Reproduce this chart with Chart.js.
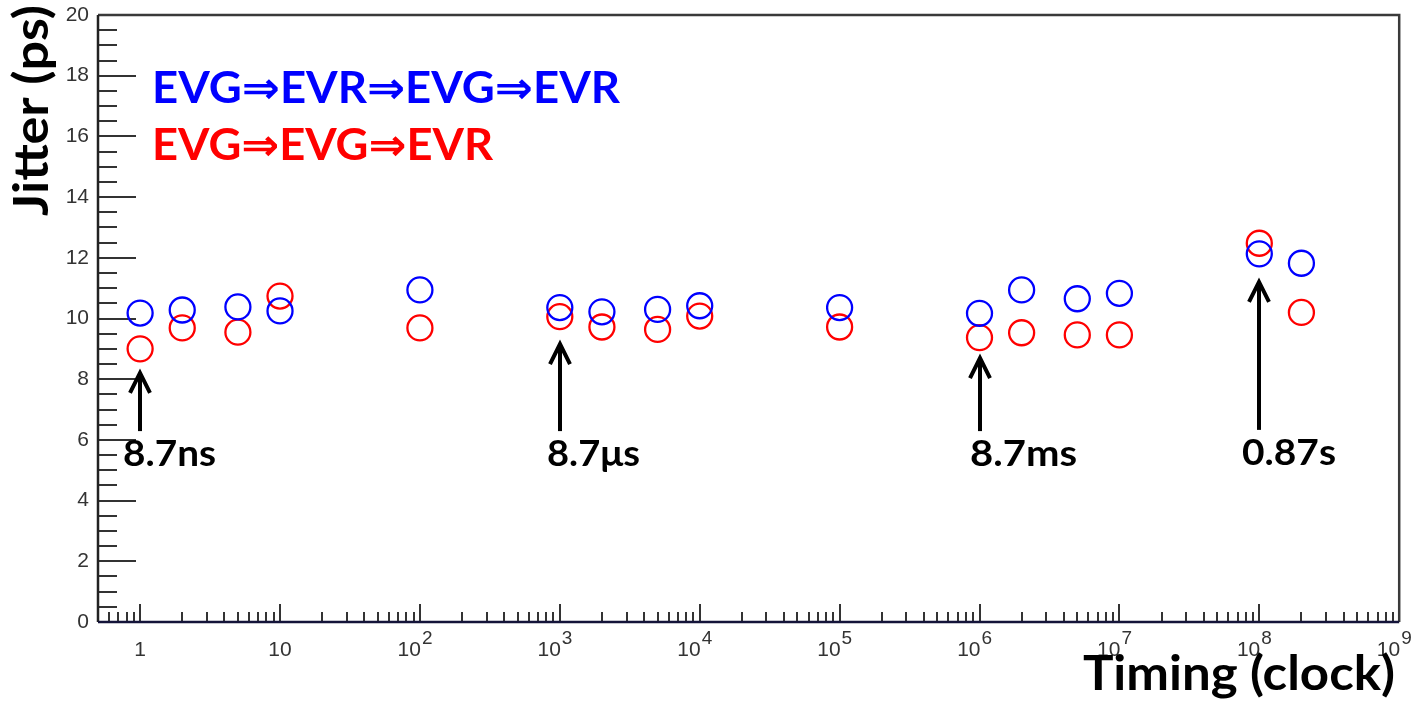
<!DOCTYPE html>
<html><head><meta charset="utf-8">
<script src="https://cdn.jsdelivr.net/npm/chart.js@4.4.1/dist/chart.umd.min.js"></script>
<style>html,body{margin:0;padding:0;background:#fff;overflow:hidden}#wrap{width:1414px;height:704px;position:relative}</style>
</head><body><div id="wrap"><canvas id="c" width="1414" height="704"></canvas></div>
<script>
// ---- data ----
const timing = [1, 2, 5, 10, 100, 1000, 2000, 5000, 10000, 1e5, 1e6, 2e6, 5e6, 1e7, 1e8, 2e8];
const jitterEvgEvrEvgEvr = [10.18, 10.28, 10.38, 10.25, 10.94, 10.36, 10.22, 10.30, 10.42, 10.36, 10.17, 10.94, 10.65, 10.83, 12.13, 11.82];
const jitterEvgEvgEvr   = [9.00, 9.69, 9.55, 10.74, 9.69, 10.06, 9.72, 9.64, 10.08, 9.72, 9.37, 9.53, 9.46, 9.46, 12.48, 10.20];
const seriesNames = ['EVG\u21D2EVR\u21D2EVG\u21D2EVR', 'EVG\u21D2EVG\u21D2EVR'];
const xTickValues = [1, 10, 1e2, 1e3, 1e4, 1e5, 1e6, 1e7, 1e8, 1e9];
const xTickBase = ['1', '10', '10', '10', '10', '10', '10', '10', '10', '10'];
const xTickExp  = ['', '', '2', '3', '4', '5', '6', '7', '8', '9'];
const yTickValues = [0, 2, 4, 6, 8, 10, 12, 14, 16, 18, 20];
const arrowX = [1, 1e3, 1e6, 1e8];
const arrowTip = [8.24, 9.19, 8.73, 11.24];
const arrowBase = [6.29, 6.29, 6.29, 6.33];
const arrowLabels = ['8.7ns', '8.7\u03BCs', '8.7ms', '0.87s'];
const xTitle = 'Timing (clock)';
const yTitle = 'Jitter (ps)';

// ---- drawing helpers ----
function fitText(ctx, text, x, y, targetW, font, color) {
  ctx.save();
  ctx.font = font; ctx.fillStyle = color; ctx.textBaseline = 'alphabetic'; ctx.textAlign = 'left';
  const w = ctx.measureText(text).width;
  ctx.translate(x, y); ctx.scale(targetW / w, 1);
  ctx.fillText(text, 0, 0);
  ctx.restore();
}

const TICK_FONT = '21px "Liberation Sans", Arial, sans-serif';

const framePlugin = {
  id: 'rootFrame',
  beforeDatasetsDraw(chart) {
    const ctx = chart.ctx, a = chart.chartArea;
    const xs = chart.scales.x, ys = chart.scales.y;
    ctx.save();
    // ticks y (inward)
    ctx.strokeStyle = '#333'; ctx.lineWidth = 2;
    for (let v = 0; v <= 20.001; v += 0.5) {
      const y = Math.round(ys.getPixelForValue(v));
      const major = Math.abs(v / 2 - Math.round(v / 2)) < 1e-6;
      ctx.beginPath(); ctx.moveTo(a.left, y); ctx.lineTo(a.left + (major ? 38 : 19), y); ctx.stroke();
    }
    // ticks x (inward)
    for (let d = -1; d <= 8; d++) {
      for (let m = 1; m <= 9; m++) {
        const v = m * Math.pow(10, d);
        if (v < 0.55 || v > 1e9) continue;
        const x = Math.round(xs.getPixelForValue(v));
        ctx.beginPath(); ctx.moveTo(x, a.bottom); ctx.lineTo(x, a.bottom - (m === 1 ? 18 : 10)); ctx.stroke();
      }
    }
    // frame
    ctx.strokeStyle = '#3a3a3a'; ctx.lineWidth = 2.5;
    ctx.beginPath(); ctx.moveTo(a.left, a.top); ctx.lineTo(a.right, a.top); ctx.lineTo(a.right, a.bottom); ctx.stroke();
    ctx.strokeStyle = '#222'; ctx.lineWidth = 2.5;
    ctx.beginPath(); ctx.moveTo(a.left, a.top); ctx.lineTo(a.left, a.bottom); ctx.stroke();
    ctx.strokeStyle = '#14143a'; ctx.lineWidth = 2.5;
    ctx.beginPath(); ctx.moveTo(a.left, a.bottom); ctx.lineTo(a.right, a.bottom); ctx.stroke();
    // x tick labels with superscripts
    ctx.fillStyle = '#333'; ctx.textBaseline = 'alphabetic';
    const baseY = a.bottom + 34;
    xTickValues.forEach((v, i) => {
      const x = xs.getPixelForValue(v);
      ctx.font = TICK_FONT;
      if (!xTickExp[i]) {
        ctx.textAlign = 'center'; ctx.fillText(xTickBase[i], x, baseY);
      } else {
        ctx.textAlign = 'right'; ctx.fillText(xTickBase[i], x + 1, baseY);
        ctx.textAlign = 'left'; ctx.font = '19px "Liberation Sans", Arial, sans-serif';
        ctx.fillText(xTickExp[i], x + 2, baseY - 12);
      }
    });
    ctx.restore();
  },
  afterDraw(chart) {
    const ctx = chart.ctx;
    const xs = chart.scales.x, ys = chart.scales.y;
    ctx.save();
    // arrows + labels
    const offs = [-17, -13, -10, -17];
    const widths = [93, 93, 107, 94];
    arrowX.forEach((v, i) => {
      const x = Math.round(xs.getPixelForValue(v));
      const yt = ys.getPixelForValue(arrowTip[i]);
      const yb = ys.getPixelForValue(arrowBase[i]);
      ctx.strokeStyle = '#000'; ctx.lineWidth = 4; ctx.lineCap = 'butt'; ctx.lineJoin = 'miter';
      ctx.beginPath(); ctx.moveTo(x, yb); ctx.lineTo(x, yt + 2); ctx.stroke();
      ctx.beginPath(); ctx.moveTo(x - 10, yt + 21); ctx.lineTo(x, yt + 1); ctx.lineTo(x + 10, yt + 21); ctx.stroke();
      fitText(ctx, arrowLabels[i], x + offs[i], yb + 35, widths[i], 'bold 36px Lato, "Open Sans", sans-serif', '#000');
    });
    // legend texts
    fitText(ctx, seriesNames[0], 152, 103, 468, 'bold 44px Lato, "DejaVu Sans", sans-serif', '#0000ff');
    fitText(ctx, seriesNames[1], 152, 160, 341, 'bold 44px Lato, "DejaVu Sans", sans-serif', '#ff0000');
    // axis titles
    fitText(ctx, xTitle, 1083, 690, 312, 'bold 48px Lato, "Open Sans", sans-serif', '#000');
    ctx.save();
    ctx.translate(48, 216); ctx.rotate(-Math.PI / 2);
    fitText(ctx, yTitle, 0, 0, 211, 'bold 48px Lato, "Open Sans", sans-serif', '#000');
    ctx.restore();
    ctx.restore();
  }
};

new Chart(document.getElementById('c').getContext('2d'), {
  type: 'scatter',
  data: {
    datasets: [
      { label: seriesNames[0], data: timing.map((t, i) => ({ x: t, y: jitterEvgEvrEvgEvr[i] })),
        pointStyle: 'circle', pointRadius: 12.5, pointHoverRadius: 12.5, borderColor: '#0000ff',
        backgroundColor: 'rgba(0,0,0,0)', pointBorderWidth: 2.3, borderWidth: 2.3, showLine: false },
      { label: seriesNames[1], data: timing.map((t, i) => ({ x: t, y: jitterEvgEvgEvr[i] })),
        pointStyle: 'circle', pointRadius: 12.5, pointHoverRadius: 12.5, borderColor: '#ff0000',
        backgroundColor: 'rgba(0,0,0,0)', pointBorderWidth: 2.3, borderWidth: 2.3, showLine: false }
    ]
  },
  options: {
    responsive: false, animation: false, devicePixelRatio: 1, events: [],
    layout: { padding: { left: 0, right: 14, top: 15, bottom: 0 } },
    plugins: { legend: { display: false }, tooltip: { enabled: false }, title: { display: false } },
    scales: {
      x: {
        type: 'logarithmic', min: 0.5, max: 1e9,
        afterFit(s) { s.height = 82; s.paddingLeft = 0; s.paddingRight = 0; },
        afterBuildTicks(s) { s.ticks = xTickValues.map(v => ({ value: v })); },
        ticks: { display: false },
        grid: { display: false, drawTicks: false },
        border: { display: false }
      },
      y: {
        type: 'linear', min: 0, max: 20,
        afterFit(s) { s.width = 98; s.paddingTop = 0; s.paddingBottom = 0; },
        afterBuildTicks(s) { s.ticks = yTickValues.map(v => ({ value: v })); },
        ticks: { autoSkip: false, padding: 9, color: '#333',
          font: { family: '"Liberation Sans", Arial, sans-serif', size: 21 },
          callback: v => String(v) },
        grid: { display: false, drawTicks: false },
        border: { display: false }
      }
    }
  },
  plugins: [framePlugin]
});
</script>
</body></html>
